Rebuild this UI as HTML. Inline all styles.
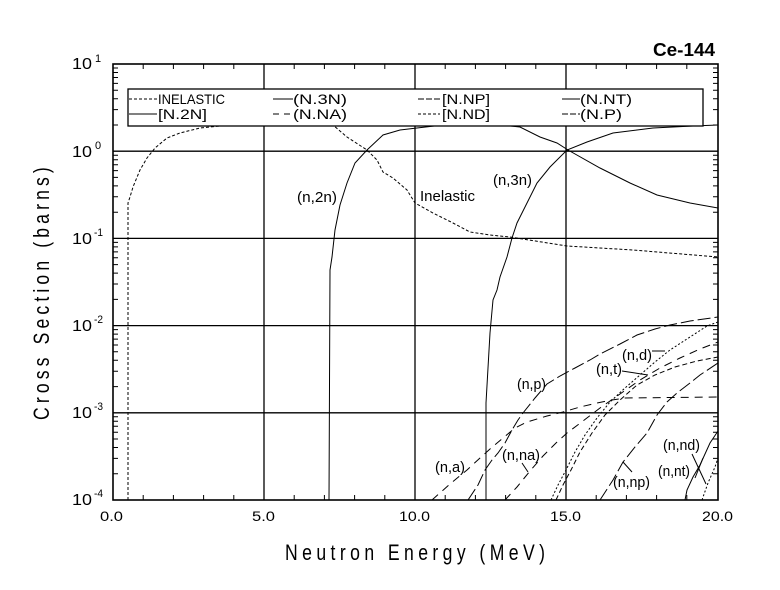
<!DOCTYPE html>
<html><head><meta charset="utf-8"><style>
html,body{margin:0;padding:0;background:#fff;}
svg{display:block;}
text{font-family:"Liberation Sans",sans-serif;fill:#000;}
</style></head><body>
<svg width="780" height="590" viewBox="0 0 780 590" xmlns="http://www.w3.org/2000/svg">
<defs><clipPath id="pc"><rect x="113" y="64" width="605" height="436"/></clipPath></defs>
<rect width="780" height="590" fill="#fff"/>

<!-- grid -->
<g stroke="#000" stroke-width="1.3" fill="none">
<path d="M264 64V500M415 64V500M566 64V500M113 151.2H718M113 238.4H718M113 325.6H718M113 412.8H718"/>
</g>

<!-- minor ticks -->
<g stroke="#000" stroke-width="1" fill="none">
<path d="M143.2 500v-5M173.4 500v-5M203.6 500v-5M233.8 500v-5M294.2 500v-5M324.4 500v-5M354.6 500v-5M384.8 500v-5M445.2 500v-5M475.4 500v-5M505.6 500v-5M535.8 500v-5M596.2 500v-5M626.4 500v-5M656.6 500v-5M686.8 500v-5"/>
<path d="M143.2 64v5M173.4 64v5M203.6 64v5M233.8 64v5M294.2 64v5M324.4 64v5M354.6 64v5M384.8 64v5M445.2 64v5M475.4 64v5M505.6 64v5M535.8 64v5M596.2 64v5M626.4 64v5M656.6 64v5M686.8 64v5"/>
<path d="M113 473.8h5M113 458.4h5M113 447.5h5M113 439h5M113 432.2h5M113 426.3h5M113 421.3h5M113 416.8h5
M113 386.6h5M113 371.2h5M113 360.3h5M113 351.8h5M113 345h5M113 339.1h5M113 334.1h5M113 329.6h5
M113 299.4h5M113 284h5M113 273.1h5M113 264.6h5M113 257.8h5M113 251.9h5M113 246.9h5M113 242.4h5
M113 212.2h5M113 196.8h5M113 185.9h5M113 177.4h5M113 170.6h5M113 164.7h5M113 159.7h5M113 155.2h5
M113 125h5M113 109.6h5M113 98.7h5M113 90.2h5M113 83.4h5M113 77.5h5M113 72.5h5M113 68h5"/>
<path d="M718 473.8h-5M718 458.4h-5M718 447.5h-5M718 439h-5M718 432.2h-5M718 426.3h-5M718 421.3h-5M718 416.8h-5
M718 386.6h-5M718 371.2h-5M718 360.3h-5M718 351.8h-5M718 345h-5M718 339.1h-5M718 334.1h-5M718 329.6h-5
M718 299.4h-5M718 284h-5M718 273.1h-5M718 264.6h-5M718 257.8h-5M718 251.9h-5M718 246.9h-5M718 242.4h-5
M718 212.2h-5M718 196.8h-5M718 185.9h-5M718 177.4h-5M718 170.6h-5M718 164.7h-5M718 159.7h-5M718 155.2h-5
M718 125h-5M718 109.6h-5M718 98.7h-5M718 90.2h-5M718 83.4h-5M718 77.5h-5M718 72.5h-5M718 68h-5"/>
</g>

<!-- curves -->
<g clip-path="url(#pc)" fill="none" stroke="#000" stroke-width="1">
<path stroke-dasharray="3,2" d="M128 500L128 203L130 197L133 187L140 170L147 158L155 148L167 138L180 133L200 128L220 126L240 125L333 125L347 137L367 150L377 160L383 172L393 178L407 190L415 203L433 213L453 223L470 232L490 235L510 237L567 246L633 250L718 257"/>
<path d="M329 500L330 270L332 257L335 230L340 205L347 183L355 163L367 150L383 135L400 130L417 128L443 125L500 125L520 127L540 137L557 143L568 150L600 168L630 183L657 195L690 203L718 208"/>
<path d="M486 500L486 403L490 333L493 300L497 290L500 277L507 257L512 238L517 223L525 207L537 183L550 167L567 150L587 142L613 133L653 128L693 126L718 125"/>
<path stroke-dasharray="13,4" d="M468 500L478 485L485 470L492 460L498 453L505 443L512 430L518 420L523 413L535 398L547 384L560 376L575 368L590 360L600 354L620 344L637 335L655 329L670 325L690 321L718 317"/>
<path stroke-dasharray="8,6" d="M432 500L450 484L467 470L480 458L490 449L503 438L515 428L527 422L547 416L563 412L580 407L597 403L612 400L625 398L718 397"/>
<path stroke-dasharray="8,6" d="M505 500L517 487L530 471L543 456L556 443L567 433L583 421L600 408L620 394L640 380L660 368L680 358L700 349L718 342"/>
<path stroke-dasharray="2,2" d="M551 500L558 485L566 470L575 452L585 435L597 418L610 402L625 388L640 375L655 362L670 350L690 337L707 326L718 322"/>
<path stroke-dasharray="5,3" d="M556 500L563 485L571 470L580 452L592 433L605 415L620 400L637 385L655 375L675 367L697 361L718 357"/>
<path stroke-dasharray="13,4" d="M600 500L613 480L623 462L635 447L647 433L657 415L667 402L677 393L690 383L700 375L718 363"/>
<path d="M685 500L687 490L693 477L700 465L710 443L718 431"/>
<path stroke-dasharray="2,2" d="M702 500L708 483L715 467L718 458"/>
</g>

<!-- pointers -->
<g stroke="#000" stroke-width="1" fill="none">
<path d="M522 463L528 472"/>
<path d="M623 462L632 472"/>
<path d="M652 351H665"/>
<path d="M622 371L648 375"/>
<path d="M692 454L706 484"/>
<path d="M695 478L703 458"/>
</g>

<!-- frame -->
<rect x="113" y="64" width="605" height="436" fill="none" stroke="#000" stroke-width="1.6"/>

<!-- legend -->
<rect x="128" y="89" width="575" height="37" fill="#fff" stroke="#000" stroke-width="1.3"/>
<g stroke="#000" stroke-width="1" fill="none">
<path stroke-dasharray="3,2" d="M129 99H157"/>
<path d="M273 99H293"/>
<path stroke-dasharray="6,2" d="M418 99H440"/>
<path d="M562 99H580"/>
<path d="M129 114H157"/>
<path stroke-dasharray="6,5" d="M273 114H293"/>
<path stroke-dasharray="3,2" d="M418 114H440"/>
<path stroke-dasharray="6,2" d="M562 114H580"/>
</g>
<g font-size="14">
<text x="158" y="104" textLength="67" lengthAdjust="spacingAndGlyphs">INELASTIC</text>
<text x="293" y="104" textLength="54" lengthAdjust="spacingAndGlyphs">(N.3N)</text>
<text x="442" y="104" textLength="48" lengthAdjust="spacingAndGlyphs">[N.NP]</text>
<text x="580" y="104" textLength="52" lengthAdjust="spacingAndGlyphs">(N.NT)</text>
<text x="158" y="119" textLength="49" lengthAdjust="spacingAndGlyphs">[N.2N]</text>
<text x="293" y="119" textLength="54" lengthAdjust="spacingAndGlyphs">(N.NA)</text>
<text x="442" y="119" textLength="48" lengthAdjust="spacingAndGlyphs">[N.ND]</text>
<text x="580" y="119" textLength="42" lengthAdjust="spacingAndGlyphs">(N.P)</text>
</g>

<!-- curve labels -->
<g font-size="15">
<text x="297" y="202" textLength="40" lengthAdjust="spacingAndGlyphs">(n,2n)</text>
<text x="420" y="201" textLength="55" lengthAdjust="spacingAndGlyphs">Inelastic</text>
<text x="493" y="185" textLength="39" lengthAdjust="spacingAndGlyphs">(n,3n)</text>
<text x="517" y="389" textLength="29" lengthAdjust="spacingAndGlyphs">(n,p)</text>
<text x="435" y="472" textLength="30" lengthAdjust="spacingAndGlyphs">(n,a)</text>
<text x="502" y="460" textLength="38" lengthAdjust="spacingAndGlyphs">(n,na)</text>
<text x="622" y="360" textLength="30" lengthAdjust="spacingAndGlyphs">(n,d)</text>
<text x="596" y="374" textLength="26" lengthAdjust="spacingAndGlyphs">(n,t)</text>
<text x="613" y="487" textLength="37" lengthAdjust="spacingAndGlyphs">(n,np)</text>
<text x="658" y="476" textLength="32" lengthAdjust="spacingAndGlyphs">(n,nt)</text>
<text x="663" y="450" textLength="37" lengthAdjust="spacingAndGlyphs">(n,nd)</text>
</g>

<!-- title -->
<text x="653" y="56" font-size="18" font-weight="bold" textLength="62" lengthAdjust="spacingAndGlyphs">Ce-144</text>

<!-- x tick labels -->
<g font-size="14">
<text x="100" y="521" textLength="23" lengthAdjust="spacingAndGlyphs">0.0</text>
<text x="252" y="521" textLength="23" lengthAdjust="spacingAndGlyphs">5.0</text>
<text x="399" y="521" textLength="31" lengthAdjust="spacingAndGlyphs">10.0</text>
<text x="550" y="521" textLength="31" lengthAdjust="spacingAndGlyphs">15.0</text>
<text x="702" y="521" textLength="31" lengthAdjust="spacingAndGlyphs">20.0</text>
</g>

<!-- y tick labels -->
<g font-size="16">
<text x="72" y="69" textLength="20" lengthAdjust="spacingAndGlyphs">10</text>
<text x="72" y="157" textLength="20" lengthAdjust="spacingAndGlyphs">10</text>
<text x="72" y="244" textLength="20" lengthAdjust="spacingAndGlyphs">10</text>
<text x="72" y="331" textLength="20" lengthAdjust="spacingAndGlyphs">10</text>
<text x="72" y="418" textLength="20" lengthAdjust="spacingAndGlyphs">10</text>
<text x="72" y="505" textLength="20" lengthAdjust="spacingAndGlyphs">10</text>
</g>
<g font-size="11">
<text x="95" y="62">1</text>
<text x="95" y="149">0</text>
<text x="94" y="236" textLength="9" lengthAdjust="spacingAndGlyphs">-1</text>
<text x="94" y="323" textLength="9" lengthAdjust="spacingAndGlyphs">-2</text>
<text x="94" y="410" textLength="9" lengthAdjust="spacingAndGlyphs">-3</text>
<text x="94" y="497" textLength="9" lengthAdjust="spacingAndGlyphs">-4</text>
</g>

<!-- axis titles -->
<g transform="translate(285,560) scale(0.8,1)">
<text x="0" y="0" font-size="22" textLength="325" lengthAdjust="spacing">Neutron Energy (MeV)</text>
</g>
<g transform="translate(49,420) rotate(-90) scale(0.8,1)">
<text x="0" y="0" font-size="22" textLength="316" lengthAdjust="spacing">Cross Section (barns)</text>
</g>
</svg>
</body></html>
